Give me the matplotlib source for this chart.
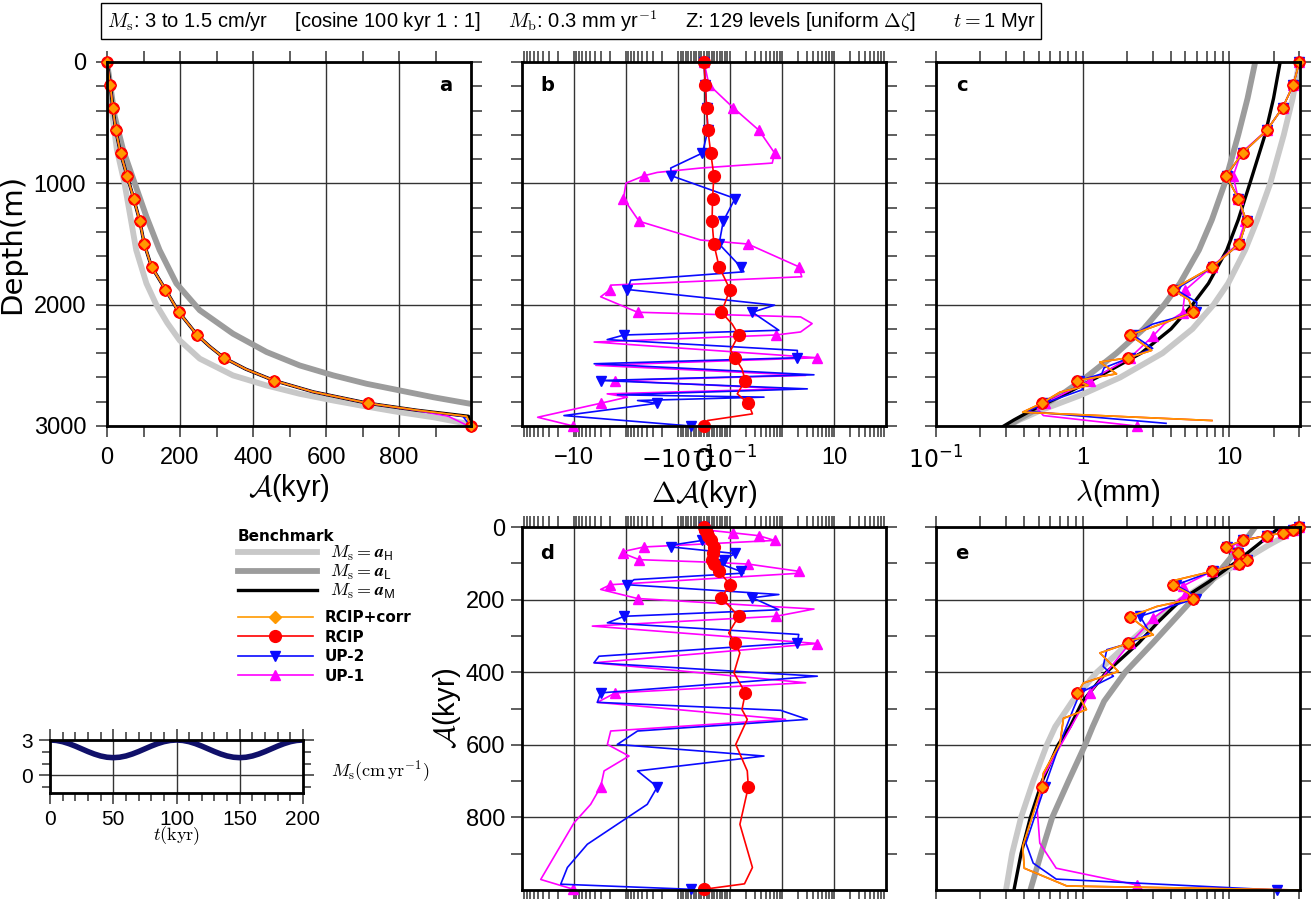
import numpy as np
import matplotlib
matplotlib.use('Agg')
import matplotlib.pyplot as plt
from matplotlib.lines import Line2D
from matplotlib.ticker import FixedLocator, NullFormatter, LogLocator
from matplotlib.font_manager import FontProperties
from matplotlib.mathtext import MathTextParser

plt.rcParams['font.family'] = ['Liberation Sans Narrow', 'Liberation Sans', 'DejaVu Sans']
plt.rcParams['mathtext.fontset'] = 'dejavusans'

# ------------------------------------------------------------------ data
# panel a : age (kyr) vs depth (m)
depth_a = [0, 187.5, 375, 562.5, 750, 937.5, 1125, 1312.5, 1500, 1687.5, 1875, 2062.5,
           2250, 2343.75, 2437.5, 2531.25, 2625, 2718.75, 2812.5, 2870, 2920, 3000]
age_aM_a = [0, 9, 16, 24, 37, 55, 73, 90, 102, 122, 160, 197, 247, 281, 320, 380, 457, 565,
            715, 848, 990, 997]
age_rcipc_a = [0, 9, 16, 24, 37, 55, 73, 90, 102, 122, 160, 197, 247, 281, 320, 380, 457, 565,
               715, 850, 985, 997]
age_up2_a = [0, 9, 16, 24, 37, 55, 73, 90, 102, 122, 160, 197, 247, 281, 320, 380, 457, 565,
             715, 848, 975, 995]
age_up1_a = [0, 9, 16, 24, 37, 55, 73, 90, 102, 122, 160, 197, 247, 281, 320, 380, 457, 565,
             715, 845, 935, 990]
mark_a = [0, 1, 2, 3, 4, 5, 6, 7, 8, 9, 10, 11, 12, 14, 16, 18, 21]

depth_aH_a = [0, 447, 722, 1000, 1274, 1550, 1825, 2000, 2150, 2294, 2445, 2583, 2666, 2735,
              2790, 2840, 2887, 2928, 2983, 3000]
age_aH_a = [0, 15, 27, 48, 64, 80, 108, 135, 165, 199, 254, 345, 437, 528, 620, 711, 802, 894,
            990, 997]
depth_aL_a = [0, 447, 722, 1000, 1274, 1550, 1825, 2046, 2239, 2390, 2501, 2583, 2652, 2707,
              2763, 2818]
age_aL_a = [0, 21, 44, 76, 108, 144, 190, 254, 345, 437, 528, 620, 711, 802, 894, 997]

# panel b : age error (kyr) vs depth
rcip_b_depth = [0, 187.5, 375, 562.5, 750, 937.5, 1125, 1312.5, 1500, 1687.5, 1875, 2062.5,
                2160, 2250, 2376, 2437.5, 2530, 2625, 2735, 2812.5, 2900, 2955, 3000]
rcip_b_val = [0, .005, .01, .015, .026, .038, .033, .031, .038, .058, .1, .067, .11, .147, .103,
              .125, .17, .197, .138, .225, .27, .013, 0]
rcip_b_mark = [0, 1, 2, 3, 4, 5, 6, 7, 8, 9, 10, 11, 13, 15, 17, 19, 22]

up2_b_depth = [0, 187.5, 375, 562.5, 750, 874, 937.5, 1125, 1312.5, 1500, 1687.5, 1729, 1798,
               1875, 2004, 2062.5, 2211, 2250, 2288, 2377, 2437.5, 2487, 2578, 2625, 2694,
               2743, 2762, 2790, 2812.5, 2914, 3000]
up2_b_val = [0, .005, .01, .015, -.006, -.138, -.134, .125, .074, .058, .16, .185, -.81, -.94,
             .72, .27, .87, -1.09, -2.3, 1.97, 1.97, -4.1, 4.12, -3.07, 3.07, -1.47, .45, -.6,
             -.25, -15.6, -.051]
up2_b_mark = [0, 1, 2, 3, 4, 6, 7, 8, 9, 10, 13, 15, 17, 20, 23, 28, 30]

up1_b_depth = [0, 187.5, 375, 562.5, 750, 833, 874, 910, 937.5, 998, 1125, 1312.5, 1467, 1500,
               1687.5, 1770, 1839, 1875, 1935, 2062.5, 2101, 2156, 2225, 2250, 2308, 2437.5,
               2500, 2583, 2625, 2694, 2735, 2762, 2812.5, 2928, 3000]
up1_b_val = [0, .019, .114, .36, .72, .65, -.013, -.25, -.45, -1.0, -1.12, -.56, -.013, .22,
             2.1, 2.4, -1.97, -2.0, -3.07, -.6, 2.28, 3.8, 2.28, .76, -4.1, 4.78, -3.8, 2.85,
             -1.6, 1.26, -2.3, -.94, -3.07, -50, -10.3]
up1_b_mark = [0, 1, 2, 3, 4, 8, 10, 11, 13, 14, 17, 19, 23, 25, 28, 32, 34]

# panel c : layer thickness (mm) vs depth
bench_c_depth = [0, 300, 600, 1000, 1300, 1550, 1825, 2000, 2200, 2400, 2600, 2750, 2870, 2950,
                 3000]
aH_c = [30, 27, 23.5, 19.0, 15.5, 12.8, 9.8, 7.8, 5.6, 3.5, 1.8, 0.95, 0.52, 0.37, 0.31]
aL_c = [15.0, 13.3, 11.5, 9.3, 7.6, 6.2, 4.6, 3.6, 2.6, 1.7, 1.05, 0.7, 0.47, 0.36, 0.31]
aM_c = [22.2, 20.0, 17.5, 13.8, 11.5, 9.6, 7.2, 5.6, 4.0, 2.5, 1.25, 0.72, 0.45, 0.34, 0.29]

rcipc_c_depth = [0, 187.5, 375, 562.5, 750, 937.5, 1125, 1312.5, 1500, 1687.5, 1875, 1960,
                 2062.5, 2184, 2250, 2377, 2437.5, 2473, 2570, 2625, 2666, 2721, 2812.5, 2886,
                 2955]
rcipc_c_lam = [30, 27.3, 23.1, 18.0, 12.3, 9.5, 11.5, 13.1, 11.7, 7.66, 4.11, 5.3, 5.68, 3.0,
               2.10, 2.95, 2.05, 1.31, 1.70, 0.92, 1.09, 0.70, 0.525, 0.39, 7.6]
rcipc_c_mark = [0, 1, 2, 3, 4, 5, 6, 7, 8, 9, 10, 12, 14, 16, 19, 22]

up2_c_depth = [0, 187.5, 375, 562.5, 750, 937.5, 1125, 1312.5, 1500, 1687.5, 1875, 1980,
               2062.5, 2160, 2250, 2360, 2437.5, 2520, 2570, 2625, 2700, 2812.5, 2880, 2978]
up2_c_lam = [30, 27.3, 23.1, 18.0, 12.3, 9.6, 11.5, 13.1, 11.7, 7.7, 4.3, 6.0, 5.9, 3.0, 2.2,
             3.0, 2.1, 1.4, 1.35, 0.95, 1.0, 0.55, 0.42, 3.7]
up2_c_mark = [0, 1, 2, 3, 4, 5, 6, 7, 8, 9, 10, 12, 14, 16, 19, 21]

up1_c_depth = [0, 187.5, 375, 562.5, 750, 943, 1125, 1312.5, 1500, 1687.5, 1880, 2065, 2160,
               2261, 2437.5, 2625, 2812.5, 2860, 2914, 3000]
up1_c_lam = [30, 27.3, 23.1, 18.0, 12.0, 10.6, 11.5, 12.8, 11.4, 7.6, 5.0, 4.8, 3.6, 3.0, 2.1,
             1.12, 0.55, 0.49, 0.54, 2.33]
up1_c_mark = [0, 1, 2, 3, 4, 5, 6, 7, 8, 9, 10, 11, 13, 14, 15, 16, 19]

# panel d : age error (kyr) vs age (kyr)
rcip_d_age = [0, 9, 16, 24, 37, 55, 73, 90, 102, 122, 159, 195, 246, 292, 319, 347, 402, 457,
              503, 530, 599, 672, 716, 819, 938, 983, 998]
rcip_d_val = [0, .005, .01, .015, .026, .038, .033, .031, .038, .058, .1, .067, .147, .095,
              .125, .155, .119, .197, .17, .215, .129, .215, .225, .155, .27, .19, 0]
rcip_d_mark = [0, 1, 2, 3, 4, 5, 6, 7, 8, 9, 10, 11, 12, 14, 17, 22, 26]

up2_d_age = [0, 9, 16, 24, 37, 51, 55, 73, 90, 102, 122, 127, 145, 159, 186, 195, 228, 246,
             264, 296, 319, 356, 374, 411, 457, 483, 505, 530, 562, 599, 631, 672, 716, 764,
             874, 938, 984, 998]
up2_d_val = [0, .005, .01, .015, -.006, -.149, -.134, .125, .077, .064, .16, .185, -.7, -.94,
             .87, .27, .87, -1.09, -2.28, 2.1, 1.97, -3.31, -4.12, 4.78, -3.07, -3.56, .94,
             3.07, -.6, -1.47, .45, -.6, -.25, -.39, -5.54, -13.4, -18, -.051]
up2_d_mark = [0, 1, 2, 3, 4, 6, 7, 8, 9, 10, 13, 15, 17, 20, 24, 32, 37]

up1_d_age = [0, 9, 16, 24, 37, 55, 67, 73, 90, 96, 102, 122, 127, 159, 172, 197, 226, 246,
             273, 321, 374, 429, 457, 483, 530, 562, 599, 631, 672, 716, 764, 815, 971, 998]
up1_d_val = [0, .019, .114, .36, .72, -.45, -1.09, -1.12, -.56, -.013, .22, 2.1, 2.4, -2.0,
             -3.07, -.6, 4.12, .76, -4.44, 4.78, -4.12, 2.85, -1.6, -3.56, 1.17, -1.97, -2.28,
             -.875, -2.64, -3.07, -4.78, -10, -43.7, -10.3]
up1_d_mark = [0, 1, 2, 3, 4, 5, 7, 8, 10, 11, 13, 15, 17, 19, 22, 29, 33]

# panel e : layer thickness (mm) vs age (kyr)
bench_e_age = [0, 25, 50, 100, 150, 200, 260, 320, 400, 480, 550, 600, 700, 800, 900, 1000]
aH_e = [30, 24, 18.5, 11.5, 7.3, 4.7, 3.0, 2.05, 1.25, 0.85, 0.65, 0.57, 0.46, 0.38, 0.33, 0.30]
aL_e = [15, 13.5, 12, 9.5, 7.5, 5.6, 4.1, 3.0, 1.95, 1.4, 1.17, 1.04, 0.8, 0.62, 0.52, 0.44]
aM_e = [22.2, 18.5, 15.5, 10.8, 7.3, 4.7, 3.3, 2.4, 1.45, 1.0, 0.82, 0.68, 0.53, 0.44, 0.38,
        0.34]

rcipc_e_age = [0, 9, 16, 24, 37, 55, 73, 90, 102, 122, 150, 160, 182, 197, 219, 247, 297, 311,
               320, 347, 398, 430, 457, 503, 527, 596, 678, 716, 880, 940, 989, 1000]
rcipc_e_lam = [30, 27.3, 23.1, 18.0, 12.3, 9.5, 11.5, 13.1, 11.7, 7.66, 3.94, 4.11, 5.25, 5.68,
               3.2, 2.10, 3.03, 2.2, 2.05, 1.31, 1.75, 1.01, 0.92, 1.06, 0.74, 0.70, 0.54,
               0.525, 0.39, 0.40, 0.78, 30]
rcipc_e_mark = [0, 1, 2, 3, 4, 5, 6, 7, 8, 9, 11, 13, 15, 18, 22, 27]

up2_e_age = [0, 9, 16, 24, 37, 55, 73, 90, 102, 122, 160, 190, 197, 246, 292, 320, 338, 384,
             411, 457, 503, 596, 716, 871, 926, 970, 1000]
up2_e_lam = [30, 27.3, 23.1, 18.0, 12.3, 9.6, 11.5, 13.1, 11.7, 7.7, 4.3, 5.9, 5.9, 2.46, 2.88,
             2.1, 1.46, 1.38, 1.62, 0.96, 0.86, 0.70, 0.55, 0.41, 0.46, 0.66, 21]
up2_e_mark = [0, 1, 2, 3, 4, 5, 6, 7, 8, 9, 10, 12, 13, 15, 19, 22, 26]

up1_e_age = [0, 9, 16, 24, 37, 55, 73, 90, 102, 122, 162, 187, 251, 320, 457, 687, 779, 871,
             940, 986]
up1_e_lam = [30, 27.3, 23.1, 18.0, 12.0, 10.3, 11.5, 12.8, 11.4, 7.6, 4.85, 5.0, 3.03, 2.1,
             1.12, 0.54, 0.49, 0.51, 0.66, 2.33]
up1_e_mark = [0, 1, 2, 3, 4, 5, 6, 7, 8, 9, 10, 11, 12, 13, 14, 19]

# inset: surface accumulation forcing
t_kyr = list(range(0, 205, 5))
Ms_cm = [3.0, 2.963, 2.857, 2.69, 2.482, 2.25, 2.018, 1.81, 1.643, 1.537, 1.5, 1.537, 1.643,
         1.81, 2.018, 2.25, 2.482, 2.69, 2.857, 2.963, 3.0, 2.963, 2.857, 2.69, 2.482, 2.25,
         2.018, 1.81, 1.643, 1.537, 1.5, 1.537, 1.643, 1.81, 2.018, 2.25, 2.482, 2.69, 2.857,
         2.963, 3.0]

# ------------------------------------------------------------------ style
C_LG, C_DG, C_K = '#c8c8c8', '#9c9c9c', 'black'
C_OR, C_RD, C_BL, C_MG = '#ff9900', '#ff0000', '#0a0aff', '#ff00ff'
LW_B, LW_M = 4.2, 1.2

W, H = 1314, 899
fig = plt.figure(figsize=(W / 100, H / 100), dpi=100)


def px_axes(l, t, r, b):
    return fig.add_axes([l / W, 1 - b / H, (r - l) / W, (b - t) / H])


def style(ax, labelsize=17, tlen=8, pad=7):
    for s in ax.spines.values():
        s.set_linewidth(2)
        s.set_zorder(5)
    ax.tick_params(which='both', direction='out', top=True, right=True, labeltop=False,
                   labelright=False, width=1.1, length=tlen, labelsize=labelsize, pad=pad,
                   color='0.2')
    ax.grid(True, which='major', color='0.2', lw=1.0)
    ax.set_axisbelow(True)


def math_ok(s, ff):
    try:
        MathTextParser('agg').parse(s, dpi=100, prop=FontProperties(math_fontfamily=ff))
        return True
    except Exception:
        return False


sym_minor = []
for k in (-1, 0, 1):
    for m in range(2, 10):
        sym_minor += [m * 10.0 ** k, -m * 10.0 ** k]
for i in range(1, 10):
    sym_minor += [0.01 * i, -0.01 * i]

ax_a = px_axes(107, 62, 471, 426)
ax_b = px_axes(522, 62, 886, 426)
ax_c = px_axes(936, 62, 1300, 426)
ax_d = px_axes(522, 527, 886, 890)
ax_e = px_axes(936, 527, 1300, 890)
ax_i = px_axes(50, 740, 303, 793)

for ax in (ax_a, ax_b, ax_c, ax_d, ax_e):
    style(ax)
style(ax_i, labelsize=15, tlen=6, pad=4)

mk = dict(clip_on=False)

# ---------------- panel a
ax = ax_a
ax.plot(age_aH_a, depth_aH_a, color=C_LG, lw=LW_B, solid_capstyle='butt')
ax.plot(age_aL_a, depth_aL_a, color=C_DG, lw=LW_B, solid_capstyle='butt')
ax.plot(age_aM_a, depth_a, color=C_K, lw=2.4)
ax.plot(age_up1_a, depth_a, color=C_MG, lw=LW_M, **mk)
ax.plot(age_up2_a, depth_a, color=C_BL, lw=LW_M, **mk)
ax.plot(age_rcipc_a, depth_a, color=C_RD, lw=LW_M, marker='o', ms=8, markevery=mark_a, **mk)
ax.plot(age_rcipc_a, depth_a, color=C_OR, lw=LW_M, marker='D', ms=6.5, mec=C_RD, mew=0.8,
        markevery=mark_a, **mk)
ax.set_xlim(0, 997)
ax.set_ylim(3000, 0)
ax.set_xticks([0, 200, 400, 600, 800])
ax.xaxis.set_minor_locator(FixedLocator([100, 300, 500, 700, 900]))
ax.set_yticks([0, 1000, 2000, 3000])
ax.yaxis.set_minor_locator(FixedLocator([v for v in range(200, 3000, 200) if v % 1000]))
ax.set_xlabel(r'$\mathcal{A}$(kyr)', fontsize=21, math_fontfamily='cm', labelpad=2)
ax.set_ylabel('Depth(m)', fontsize=21, family='DejaVu Sans')
ax.yaxis.set_label_coords((26 - 107) / 364, 0.5)
ax.text(0.93, 0.935, 'a', transform=ax.transAxes, fontsize=14, weight='bold',
        ha='center', va='center', family='DejaVu Sans')

# ---------------- panel b
ax = ax_b
ax.plot(up1_b_val, up1_b_depth, color=C_MG, lw=LW_M, marker='^', ms=7, markevery=up1_b_mark, **mk)
ax.plot(up2_b_val, up2_b_depth, color=C_BL, lw=LW_M, marker='v', ms=7, markevery=up2_b_mark, **mk)
ax.plot(rcip_b_val, rcip_b_depth, color=C_RD, lw=LW_M, marker='o', ms=8.5, markevery=rcip_b_mark, **mk)
ax.set_xscale('symlog', linthresh=0.1, linscale=0.45)
ax.set_xlim(-100, 100)
ax.set_ylim(3000, 0)
sym_major = [-10, -1, -0.1, 0, 0.1, 1, 10]
sym_labels = ['\u221210', '', r'$-10^{-1}$', '0', r'$10^{-1}$', '', '10']
ax.set_xticks(sym_major, sym_labels)
ax.xaxis.set_minor_locator(FixedLocator(sym_minor))
ax.xaxis.set_minor_formatter(NullFormatter())
ax.get_xticklabels()[3].set_fontsize(24)
ax.set_yticks([0, 1000, 2000, 3000], [])
ax.yaxis.set_minor_locator(FixedLocator([v for v in range(200, 3000, 200) if v % 1000]))
ax.set_xlabel(r'$\Delta\mathcal{A}$(kyr)', fontsize=21, math_fontfamily='cm', labelpad=0)
ax.text(0.07, 0.935, 'b', transform=ax.transAxes, fontsize=14, weight='bold',
        ha='center', va='center', family='DejaVu Sans')

# ---------------- panel c
ax = ax_c
ax.plot(aH_c, bench_c_depth, color=C_LG, lw=LW_B)
ax.plot(aL_c, bench_c_depth, color=C_DG, lw=LW_B)
ax.plot(aM_c, bench_c_depth, color=C_K, lw=2.4)
ax.plot(up1_c_lam, up1_c_depth, color=C_MG, lw=LW_M, marker='^', ms=7, markevery=up1_c_mark, **mk)
ax.plot(up2_c_lam, up2_c_depth, color=C_BL, lw=LW_M, marker='v', ms=7, markevery=up2_c_mark, **mk)
ax.plot(rcipc_c_lam, rcipc_c_depth, color=C_RD, lw=LW_M, marker='o', ms=8, markevery=rcipc_c_mark, **mk)
ax.plot(rcipc_c_lam, rcipc_c_depth, color=C_OR, lw=LW_M, marker='D', ms=6.5, mec=C_RD, mew=0.8,
        markevery=rcipc_c_mark, **mk)
ax.set_xscale('log')
ax.set_xlim(0.1, 30.3)
ax.set_ylim(3000, 0)
ax.set_xticks([0.1, 1, 10], [r'$10^{-1}$', '1', '10'])
ax.xaxis.set_minor_locator(LogLocator(base=10, subs=np.arange(2, 10), numticks=50))
ax.xaxis.set_minor_formatter(NullFormatter())
ax.set_yticks([0, 1000, 2000, 3000], [])
ax.yaxis.set_minor_locator(FixedLocator([v for v in range(200, 3000, 200) if v % 1000]))
ax.set_xlabel(r'$\lambda$(mm)', fontsize=21, math_fontfamily='cm', labelpad=2)
ax.text(0.07, 0.935, 'c', transform=ax.transAxes, fontsize=14, weight='bold',
        ha='center', va='center', family='DejaVu Sans')

# ---------------- panel d
ax = ax_d
ax.plot(up1_d_val, up1_d_age, color=C_MG, lw=LW_M, marker='^', ms=7, markevery=up1_d_mark, **mk)
ax.plot(up2_d_val, up2_d_age, color=C_BL, lw=LW_M, marker='v', ms=7, markevery=up2_d_mark, **mk)
ax.plot(rcip_d_val, rcip_d_age, color=C_RD, lw=LW_M, marker='o', ms=8.5, markevery=rcip_d_mark, **mk)
ax.set_xscale('symlog', linthresh=0.1, linscale=0.45)
ax.set_xlim(-100, 100)
ax.set_ylim(1000, 0)
ax.set_xticks(sym_major, [])
ax.xaxis.set_minor_locator(FixedLocator(sym_minor))
ax.xaxis.set_minor_formatter(NullFormatter())
ax.set_yticks([0, 200, 400, 600, 800])
ax.yaxis.set_minor_locator(FixedLocator([100, 300, 500, 700, 900]))
ax.tick_params(axis='y', pad=4)
ax.set_ylabel(r'$\mathcal{A}$(kyr)', fontsize=21, math_fontfamily='cm', labelpad=2)
ax.text(0.07, 0.928, 'd', transform=ax.transAxes, fontsize=14, weight='bold',
        ha='center', va='center', family='DejaVu Sans')

# ---------------- panel e
ax = ax_e
ax.plot(aH_e, bench_e_age, color=C_LG, lw=LW_B)
ax.plot(aL_e, bench_e_age, color=C_DG, lw=LW_B)
ax.plot(aM_e, bench_e_age, color=C_K, lw=2.4)
ax.plot(up1_e_lam, up1_e_age, color=C_MG, lw=LW_M, marker='^', ms=7, markevery=up1_e_mark, **mk)
ax.plot(up2_e_lam, up2_e_age, color=C_BL, lw=LW_M, marker='v', ms=7, markevery=up2_e_mark, **mk)
ax.plot(rcipc_e_lam, rcipc_e_age, color=C_RD, lw=LW_M, marker='o', ms=8, markevery=rcipc_e_mark, **mk)
ax.plot(rcipc_e_lam, rcipc_e_age, color=C_OR, lw=LW_M, marker='D', ms=6.5, mec=C_RD, mew=0.8,
        markevery=rcipc_e_mark, **mk)
ax.set_xscale('log')
ax.set_xlim(0.1, 30.3)
ax.set_ylim(1000, 0)
ax.set_xticks([0.1, 1, 10], [])
ax.xaxis.set_minor_locator(LogLocator(base=10, subs=np.arange(2, 10), numticks=50))
ax.xaxis.set_minor_formatter(NullFormatter())
ax.set_yticks([0, 200, 400, 600, 800], [])
ax.yaxis.set_minor_locator(FixedLocator([100, 300, 500, 700, 900]))
ax.text(0.07, 0.928, 'e', transform=ax.transAxes, fontsize=14, weight='bold',
        ha='center', va='center', family='DejaVu Sans')

# ---------------- inset forcing
ax = ax_i
ax.plot(t_kyr, Ms_cm, color='#10106a', lw=4.0)
ax.set_xlim(0, 200)
ax.set_ylim(-1.5, 3)
ax.set_xticks([0, 50, 100, 150, 200])
ax.xaxis.set_minor_locator(FixedLocator(list(range(10, 200, 10))))
ax.set_yticks([0, 3])
ax.yaxis.set_minor_locator(FixedLocator([-1, 1, 2]))
ax.tick_params(axis='both', which='major', length=8, pad=4)
ax.set_xlabel(r'$t(\mathrm{kyr})$', fontsize=13, math_fontfamily='cm', labelpad=-3)
fig.text(380 / W, 1 - 771 / H, r'$M_\mathrm{s}(\mathrm{cm\,yr^{-1}})$', fontsize=13,
         math_fontfamily='cm', ha='center', va='center')

# ---------------- legends
bf = r'\mathbfit' if math_ok(r'$\mathbfit{a}$', 'cm') else r'\mathbf'
bench_handles = [Line2D([], [], color=C_LG, lw=LW_B),
                 Line2D([], [], color=C_DG, lw=LW_B),
                 Line2D([], [], color=C_K, lw=2.4)]
bench_labels = [r'$M_\mathrm{s} = %s{a}_\mathsf{H}$' % bf,
                r'$M_\mathrm{s} = %s{a}_\mathsf{L}$' % bf,
                r'$M_\mathrm{s} = %s{a}_\mathsf{M}$' % bf]
leg1 = fig.legend(bench_handles, bench_labels, loc='upper left',
                  bbox_to_anchor=(238 / W, 1 - 529 / H), frameon=False, fontsize=13,
                  handlelength=4.4, handletextpad=0.7, labelspacing=0.0, borderpad=0,
                  borderaxespad=0, title='Benchmark', alignment='left',
                  title_fontproperties={'weight': 'bold', 'size': 11, 'family': 'DejaVu Sans'})
for t in leg1.get_texts():
    t.set_math_fontfamily('cm')

model_handles = [Line2D([], [], color=C_OR, lw=LW_M, marker='D', ms=6.5),
                 Line2D([], [], color=C_RD, lw=LW_M, marker='o', ms=8.5),
                 Line2D([], [], color=C_BL, lw=LW_M, marker='v', ms=7),
                 Line2D([], [], color=C_MG, lw=LW_M, marker='^', ms=7)]
model_labels = ['RCIP+corr', 'RCIP', 'UP-2', 'UP-1']
leg2 = fig.legend(model_handles, model_labels, loc='upper left',
                  bbox_to_anchor=(238 / W, 1 - 610 / H), frameon=False,
                  prop={'weight': 'bold', 'size': 11, 'family': 'DejaVu Sans'},
                  handlelength=4.9, handletextpad=0.8, labelspacing=0.3, borderpad=0,
                  borderaxespad=0)

# ---------------- header box
header = (r'$M_\mathrm{s}$: 3 to 1.5 cm/yr     [cosine 100 kyr 1 : 1]     '
          r'$M_\mathrm{b}$: 0.3 mm yr$^{-1}$     Z: 129 levels [uniform $\Delta\zeta$]'
          r'       $t = $1 Myr')
fig.text(571 / W, 1 - 21 / H, header, fontsize=14.5, ha='center', va='center',
         math_fontfamily='cm',
         bbox=dict(boxstyle='square,pad=0.28', fc='white', ec='black', lw=1))

fig.savefig('out.png', dpi=100)
